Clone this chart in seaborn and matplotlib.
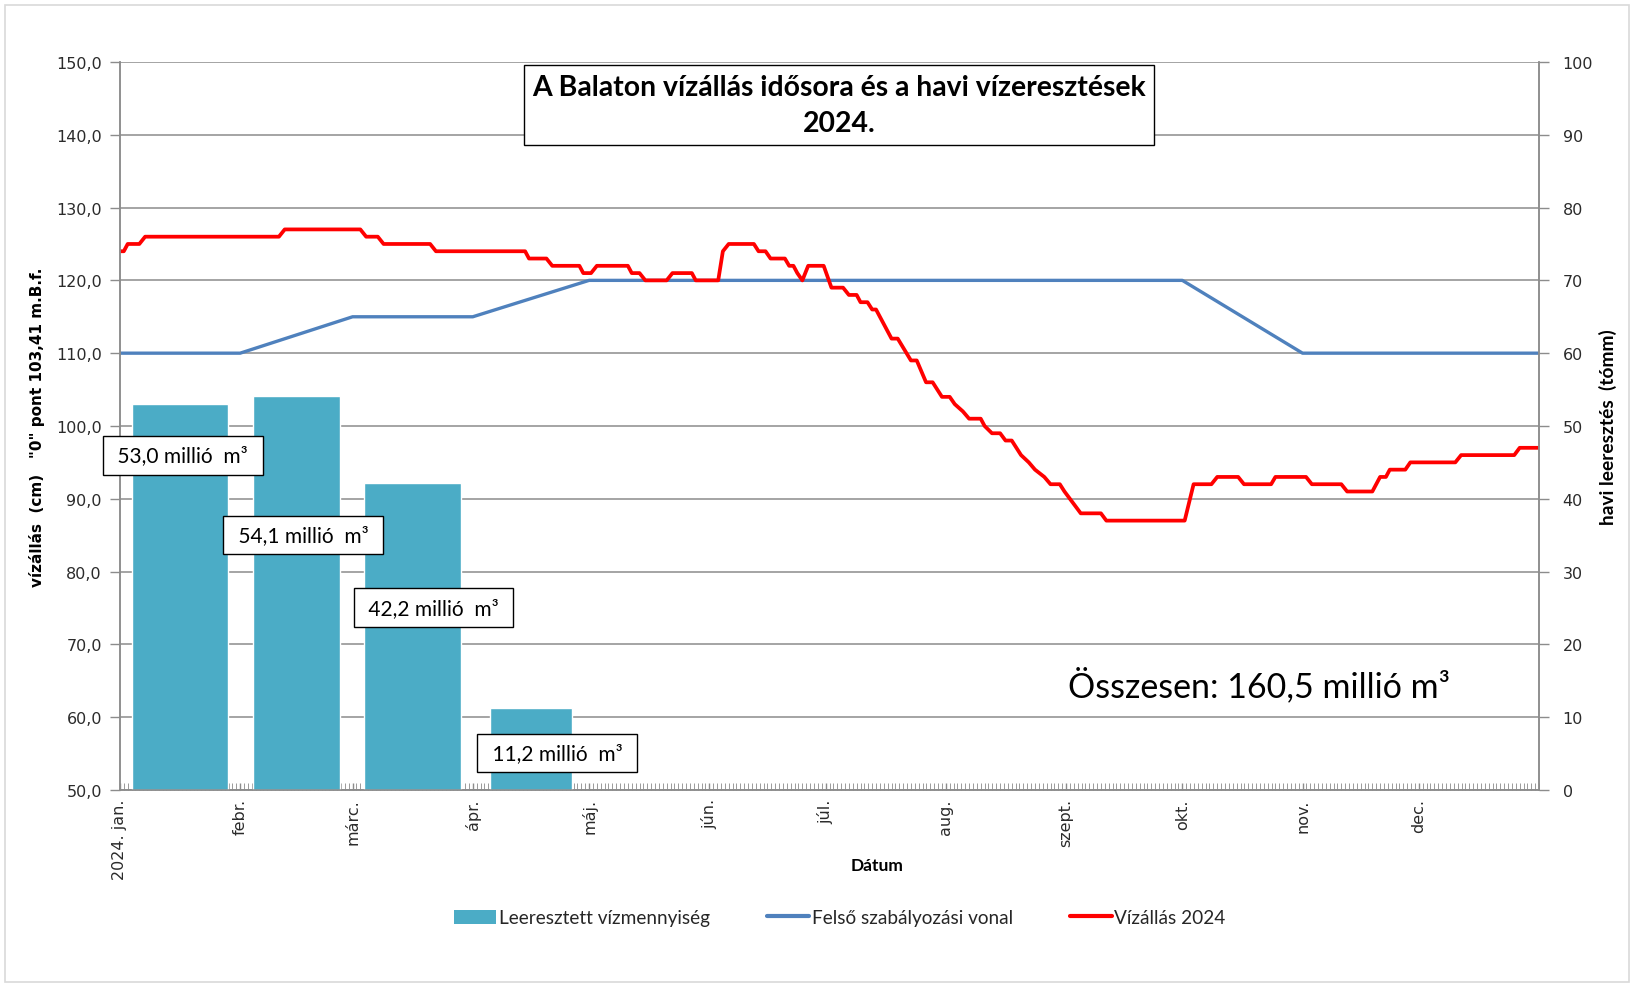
import pandas as pd
import matplotlib
matplotlib.use('Agg')
import matplotlib.pyplot as plt
import matplotlib.dates as mdates
from matplotlib.patches import Patch, Rectangle
from matplotlib.lines import Line2D
import seaborn as sns

# water level of the lake (cm), breakpoints (days after 2024-01-01)
level_days = [0, 1, 2, 5, 6.5, 41, 42.5, 62, 63.5, 66.5, 68, 80, 81.5, 104.5, 105.5, 110,
              111.5, 118.5, 119.5, 121.5, 123, 131, 132, 134, 135.5, 141, 142.5, 147.5, 148.5,
              154.3, 155.5, 157, 163.5, 164.7, 166.5, 167.8, 171.5, 172.6, 173.7, 174.7, 176,
              177.5, 181.5, 183.5, 186.5, 188, 190, 191, 192.8, 194, 195, 199, 200.6, 204, 205.5,
              207.9, 209.6, 212, 214, 215.3, 217.4, 219, 222, 223, 224.9, 227, 228.4, 230, 232.4,
              234.4, 236, 238.4, 240, 242.4, 243.6, 247.8, 253, 254.4, 274.6, 276.9, 281.5, 283,
              288.4, 289.9, 296.9, 298, 305.9, 307.4, 315, 316.5, 323, 325, 326.5, 327.5, 331.5,
              332.8, 344.4, 345.9, 359.6, 361, 366]
level_cm = [124, 124, 125, 125, 126, 126, 127, 127, 126, 126, 125, 125, 124, 124, 123, 123,
            122, 122, 121, 121, 122, 122, 121, 121, 120, 120, 121, 121, 120,
            120, 124, 125, 125, 124, 124, 123, 123, 122, 122, 121, 120,
            122, 122, 119, 119, 118, 118, 117, 117, 116, 116, 112, 112, 109, 109,
            106, 106, 104, 104, 103, 102, 101, 101, 100, 99, 99, 98, 98, 96,
            95, 94, 93, 92, 92, 91, 88, 88, 87, 87, 92, 92, 93,
            93, 92, 92, 93, 93, 92, 92, 91, 91, 93, 93, 94, 94,
            95, 95, 96, 96, 97, 97]

# upper regulation line (cm)
rule_days = [0, 31, 60, 91, 121, 274, 305, 366]
rule_cm = [110, 110, 115, 115, 120, 120, 110, 110]

# monthly released water (million m3)
release_month_start = ['2024-01-01', '2024-02-01', '2024-03-01', '2024-04-01']
release_month_days = [31, 29, 31, 30]
release_mm3 = [53.0, 54.1, 42.2, 11.2]
release_labels = ['53,0 millió  m³', '54,1 millió  m³', '42,2 millió  m³', '11,2 millió  m³']

month_labels = ['2024. jan.', 'febr.', 'márc.', 'ápr.', 'máj.', 'jún.', 'júl.',
                'aug.', 'szept.', 'okt.', 'nov.', 'dec.']

TEAL = '#4BACC6'
BLUE = '#4F81BD'
RED = '#FF0000'
GRID = '#8c8c8c'
TXT = '#2b2b2b'
SANS = ['DejaVu Sans']
CAL = ['Lato', 'DejaVu Sans']

sns.set_style('white')
plt.rcParams['font.family'] = SANS

start = pd.Timestamp('2024-01-01')
level = pd.DataFrame({'date': start + pd.to_timedelta(level_days, unit='D'), 'cm': level_cm})
rule = pd.DataFrame({'date': start + pd.to_timedelta(rule_days, unit='D'), 'cm': rule_cm})

fig = plt.figure(figsize=(16.34, 9.87), dpi=100)
ax = fig.add_axes([0.0734, 0.1986, 0.9419 - 0.0734, 0.9362 - 0.1986])
ax2 = ax.twinx()

sns.lineplot(data=rule, x='date', y='cm', ax=ax, color=BLUE, linewidth=2.4, legend=False)
sns.lineplot(data=level, x='date', y='cm', ax=ax, color=RED, linewidth=2.7, legend=False)

# bars (secondary axis), Excel-ish gap between columns
bar_fill = [0.8, 0.78, 0.81, 0.7]
mstart = pd.to_datetime(release_month_start)
mdays = pd.to_timedelta(release_month_days, unit='D')
centers = mstart + mdays / 2
widths = [d * f for d, f in zip(release_month_days, bar_fill)]
ax2.bar(centers, release_mm3, width=widths, color=TEAL, zorder=1)

# label boxes, offsets in points from top of each bar
label_offsets = [(2, -37), (5, -100), (15, -90), (19, -32)]
for c, v, t, (dx, dy) in zip(centers, release_mm3, release_labels, label_offsets):
    ax2.annotate(' ' + t + ' ', xy=(c, v), xytext=(dx, dy), textcoords='offset points',
                 ha='center', va='center', fontsize=15, family=CAL, color='black',
                 bbox=dict(boxstyle='square,pad=0.45', fc='white', ec='black', lw=1.0))

# axes setup
ax.set_xlim(start, pd.Timestamp('2025-01-01'))
ax.set_ylim(50, 150)
ax2.set_ylim(0, 100)
ax.set_yticks(range(50, 151, 10))
ax.set_yticklabels([f'{v},0' for v in range(50, 151, 10)])
ax2.set_yticks(range(0, 101, 10))

ax.set_xticks(pd.date_range('2024-01-01', periods=12, freq='MS'))
ax.set_xticklabels(month_labels, rotation=90, ha='center', va='top')
ax.xaxis.set_minor_locator(mdates.DayLocator())

ax.yaxis.grid(True, color=GRID, lw=1.1)
ax.xaxis.grid(False)
ax.set_axisbelow(True)

for a in (ax, ax2):
    for s in a.spines.values():
        s.set_color(GRID)
        s.set_linewidth(1.1)
    a.spines['top'].set_visible(False)

ax.tick_params(axis='y', left=True, direction='out', length=7, width=1, color=GRID,
               labelsize=11.5, labelcolor=TXT, pad=6)
ax2.tick_params(axis='y', right=True, direction='out', length=7, width=1, color=GRID,
                labelsize=11.5, labelcolor=TXT, pad=10)
ax.tick_params(axis='x', which='major', bottom=True, direction='in', length=5, width=1,
               color=GRID, labelsize=11.5, labelcolor=TXT, pad=6)
ax.tick_params(axis='x', which='minor', bottom=True, direction='in', length=5, width=0.7,
               color='#9a9a9a')
ax2.tick_params(axis='x', which='both', bottom=False)

ax.set_xlabel('')
ax.set_ylabel('')
ax2.set_ylabel('')

fig.text(0.0226, 0.567, 'vízállás  (cm)   "0" pont 103,41 m.B.f.', rotation=90,
         ha='center', va='center', fontsize=11, fontweight='bold', color='black')
fig.text(0.984, 0.567, 'havi leeresztés  (tómm)', rotation=90, ha='center', va='center',
         fontsize=13.8, fontweight='bold', family=CAL, color='black')
fig.text(0.537, 0.1225, 'Dátum', ha='center', va='center', fontsize=12.5,
         fontweight='bold', family=CAL, color='black')

fig.text(0.5135, 0.8925, 'A Balaton vízállás idősora és a havi vízeresztések\n2024.',
         ha='center', va='center', fontsize=20.4, fontweight='bold', family=CAL,
         linespacing=1.5, color='black',
         bbox=dict(boxstyle='square,pad=0.3', fc='white', ec='black', lw=1.0))

fig.text(0.6535, 0.306, 'Összesen: 160,5 millió m³', ha='left', va='center',
         fontsize=24.5, family=CAL, color='black')

handles = [Patch(facecolor=TEAL, edgecolor='none'),
           Line2D([], [], color=BLUE, lw=3),
           Line2D([], [], color=RED, lw=3)]
fig.legend(handles, ['Leeresztett vízmennyiség', 'Felső szabályozási vonal', 'Vízállás 2024'],
           loc='center', bbox_to_anchor=(0.514, 0.069), ncol=3, frameon=False,
           prop={'family': CAL, 'size': 13.7}, handlelength=2.2, handleheight=0.8,
           handletextpad=0.15, columnspacing=3.0)

fig.patches.append(Rectangle((0.003, 0.004), 0.994, 0.99, transform=fig.transFigure,
                             fill=False, ec='#d9d9d9', lw=1.2))

fig.savefig('out.png', dpi=100)
